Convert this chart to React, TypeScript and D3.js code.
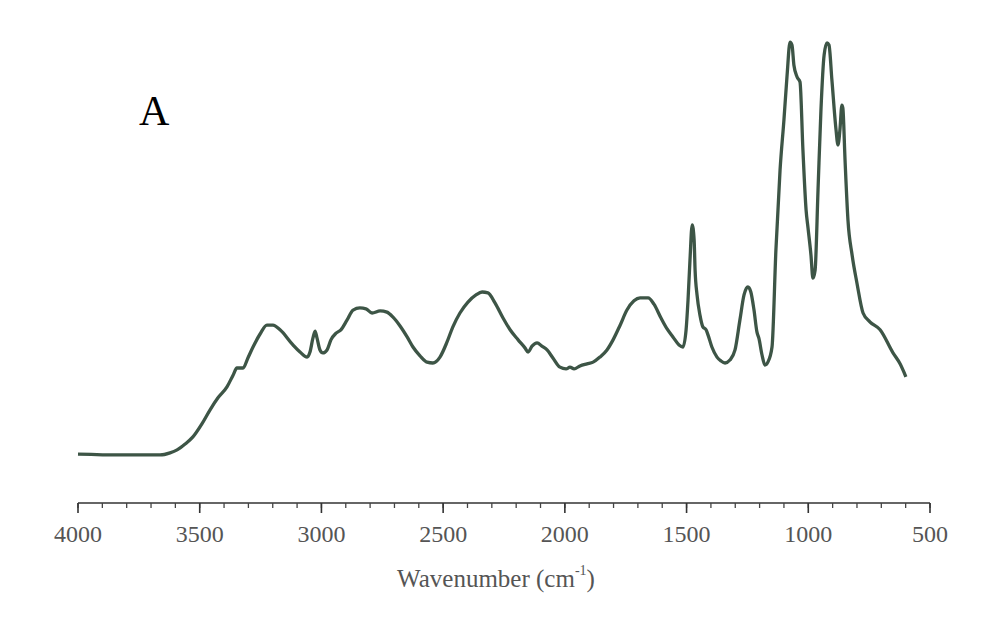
import React from "react";
import * as d3 from "d3";

const wavenumbers = [
  4000, 3827, 3663, 3622, 3593, 3560, 3528, 3491, 3458, 3425, 3388, 3363, 3347, 3322, 3302, 3281, 3252, 3224, 3199, 3170,
  3117, 3088, 3059, 3047, 3035, 3026, 3018, 3006, 2994, 2977, 2961, 2940, 2920, 2895, 2870, 2842, 2817, 2792, 2759, 2731,
  2706, 2677, 2648, 2624, 2595, 2566, 2542, 2513, 2484, 2460, 2431, 2398, 2365, 2340, 2316, 2287, 2254, 2225, 2192, 2164,
  2151, 2135, 2114, 2094, 2073, 2049, 2020, 1995, 1979, 1962, 1938, 1909, 1884, 1856, 1827, 1802, 1773, 1745, 1716, 1691,
  1658, 1634, 1605, 1580, 1556, 1531, 1515, 1502, 1494, 1486, 1477, 1469, 1465, 1457, 1445, 1433, 1420, 1412, 1396, 1375,
  1359, 1342, 1322, 1301, 1281, 1264, 1248, 1236, 1223, 1211, 1203, 1190, 1178, 1166, 1149, 1133, 1116, 1100, 1087, 1075,
  1067, 1059, 1046, 1034, 1022, 1009, 1001, 989, 981, 972, 960, 948, 935, 923, 915, 903, 886, 878, 870, 862,
  858, 849, 837, 820, 800, 775, 747, 705, 652, 623, 599,
];

const absorbance = [
  0.014, 0.012, 0.012, 0.017, 0.024, 0.038, 0.055, 0.086, 0.119, 0.148, 0.174, 0.202, 0.219, 0.219, 0.243, 0.269, 0.3, 0.321, 0.321, 0.31,
  0.274, 0.257, 0.245, 0.257, 0.29, 0.307, 0.29, 0.262, 0.255, 0.262, 0.286, 0.302, 0.31, 0.333, 0.357, 0.362, 0.36, 0.35, 0.355, 0.352,
  0.34, 0.319, 0.293, 0.269, 0.248, 0.233, 0.231, 0.245, 0.281, 0.317, 0.35, 0.376, 0.393, 0.4, 0.398, 0.374, 0.338, 0.31, 0.286, 0.267,
  0.257, 0.271, 0.279, 0.271, 0.262, 0.243, 0.221, 0.217, 0.221, 0.217, 0.224, 0.229, 0.233, 0.245, 0.262, 0.286, 0.321, 0.357, 0.379, 0.386,
  0.386, 0.371, 0.338, 0.312, 0.293, 0.274, 0.269, 0.31, 0.381, 0.476, 0.56, 0.524, 0.452, 0.393, 0.345, 0.317, 0.31, 0.298, 0.269, 0.245,
  0.236, 0.231, 0.238, 0.262, 0.333, 0.393, 0.412, 0.4, 0.357, 0.305, 0.29, 0.25, 0.226, 0.233, 0.269, 0.5, 0.69, 0.81, 0.917, 0.995,
  0.988, 0.94, 0.912, 0.9, 0.738, 0.595, 0.552, 0.488, 0.433, 0.452, 0.643, 0.833, 0.964, 0.993, 0.988, 0.905, 0.786, 0.75, 0.786, 0.845,
  0.838, 0.714, 0.571, 0.488, 0.421, 0.35, 0.329, 0.31, 0.255, 0.229, 0.198,
];

const majorTicks = [4000, 3500, 3000, 2500, 2000, 1500, 1000, 500];
const minorTicks = d3.range(4000, 499, -100);
const xLabel = "Wavenumber (cm";
const xLabelSup = "-1";
const panelLabel = "A";

export default function App() {
  const width = 1000;
  const height = 634;
  const axisY = 503;
  const x = d3.scaleLinear().domain([4000, 500]).range([78, 930]);
  const y = d3.scaleLinear().domain([0, 1]).range([460, 40]);

  const data = wavenumbers.map((w, i) => [w, absorbance[i]] as [number, number]);
  const line = d3
    .line<[number, number]>()
    .x((d) => x(d[0]))
    .y((d) => y(d[1]))
    .curve(d3.curveMonotoneX);

  const font = "'Liberation Serif', 'Times New Roman', serif";

  return (
    <svg
      width={width}
      height={height}
      style={{ position: "absolute", left: 0, top: 0, background: "#fff" }}
    >
      <rect width={width} height={height} fill="#fff" />
      <path d={line(data) || ""} fill="none" stroke="#3d5546" strokeWidth={3.3} strokeLinejoin="round" />

      <line x1={x(4000)} x2={x(500)} y1={axisY} y2={axisY} stroke="#333" strokeWidth={1.6} />
      {minorTicks.map((t) => (
        <line key={"m" + t} x1={x(t)} x2={x(t)} y1={axisY} y2={axisY + 5} stroke="#444" strokeWidth={1.3} />
      ))}
      {majorTicks.map((t) => (
        <g key={"M" + t}>
          <line x1={x(t)} x2={x(t)} y1={axisY} y2={axisY + 10} stroke="#333" strokeWidth={1.6} />
          <text
            x={x(t)}
            y={542}
            textAnchor="middle"
            fontFamily={font}
            fontSize={24}
            fill="#555"
          >
            {t}
          </text>
        </g>
      ))}

      <text x={496} y={587} textAnchor="middle" fontFamily={font} fontSize={25} fill="#555">
        {xLabel}
        <tspan fontSize={14} dy={-12}>{xLabelSup}</tspan>
        <tspan dy={12}>)</tspan>
      </text>

      <text x={139} y={125} fontFamily={font} fontSize={42} fill="#000">
        {panelLabel}
      </text>
    </svg>
  );
}
